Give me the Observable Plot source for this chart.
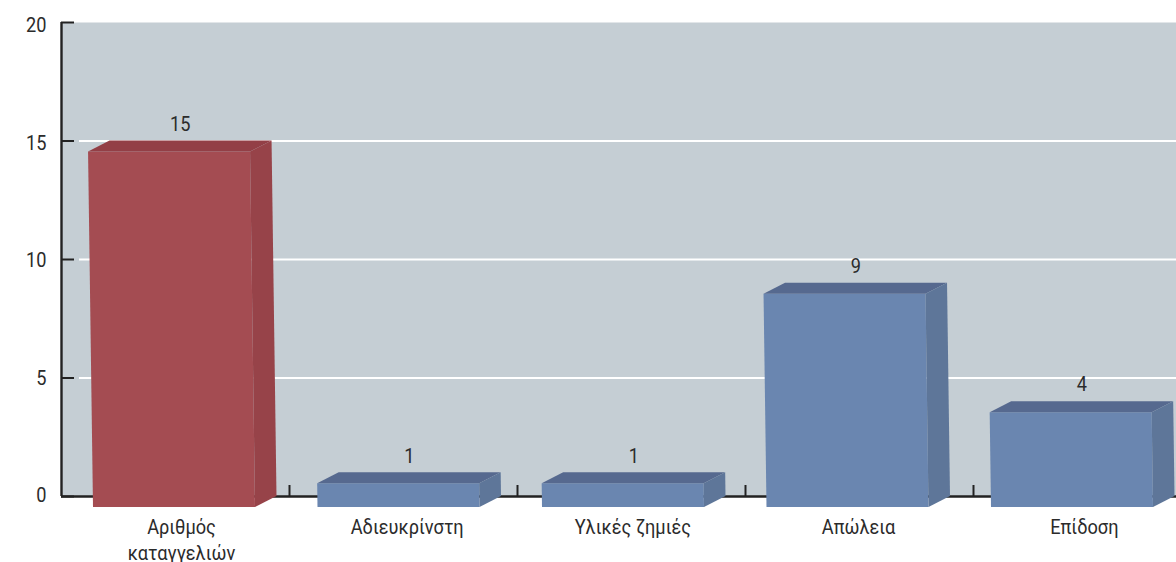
<!DOCTYPE html>
<html><head><meta charset="utf-8">
<script src="https://cdn.jsdelivr.net/npm/d3@7"></script>
<script src="https://cdn.jsdelivr.net/npm/@observablehq/plot@0.6"></script>
<style>html,body{margin:0;padding:0;background:#fff;overflow:hidden}</style>
</head><body><div id="chart"></div>
<script>
const categories = ["Αριθμός\nκαταγγελιών", "Αδιευκρίνστη", "Υλικές ζημιές", "Απώλεια", "Επίδοση"];
const values = [15, 1, 1, 9, 4];
const yTicks = [0, 5, 10, 15, 20];
const xTicks = [1, 2, 3, 4];
const highlighted = ["Αριθμός\nκαταγγελιών"];

// layout, in scale units
const pxX = 1 / 228, pxY = 1 / 23.7;
const step = 224.5 * pxX, start = 32 * pxX, barW = 162 * pxX;
const depthX = 21.5 * pxX, depthY = 11 * pxY, skew = 0.33 * pxX;
const FONT = "Roboto,sans-serif";
const TEXT_NARROW = 0.865;

const palette = {
  red: {front: "#a44c52", top: "#933f46", side: "#974349"},
  blue: {front: "#6a86b0", top: "#56698f", side: "#5e7699"}
};

function quad(key, fill, a, b, c, d) {
  return [
    {key, fill, x1: a[0], y1: a[1], x2: b[0], y2: b[1]},
    {key, fill, x1: d[0], y1: d[1], x2: c[0], y2: c[1]}
  ];
}

const bars = categories.map((c, i) => {
  const v = values[i];
  const pal = highlighted.includes(c) ? palette.red : palette.blue;
  const xl = start + i * step, xr = xl + barW;
  const dt = skew * v;
  const yb = -depthY, yt = v - depthY;
  const fbl = [xl, yb], fbr = [xr, yb], ftl = [xl - dt, yt], ftr = [xr - dt, yt];
  const btl = [ftl[0] + depthX, v], btr = [ftr[0] + depthX, v], bbr = [xr + depthX, 0];
  return {
    c, v,
    labelX: (ftl[0] + btr[0]) / 2,
    faces: [
      ...quad(i + "f", pal.front, fbl, ftl, ftr, fbr),
      ...quad(i + "t", pal.top, ftl, btl, btr, ftr),
      ...quad(i + "s", pal.side, fbr, ftr, btr, bbr)
    ]
  };
});
const faces = bars.flatMap(b => b.faces);

const xMax = 1115 * pxX;
const chart = Plot.plot({
  width: 1176, height: 562,
  marginLeft: 61, marginRight: 0, marginTop: 22, marginBottom: 66,
  x: {domain: [0, xMax], axis: null},
  y: {domain: [0, 20], axis: null},
  color: {type: "identity"},
  style: {fontFamily: FONT, background: "#fff", overflow: "hidden"},
  marks: [
    Plot.frame({fill: "#c5ced4", stroke: null}),
    Plot.ruleY(yTicks.filter(t => t > 0 && t < 20), {x1: 18 * pxX, x2: xMax, stroke: "#fff", strokeWidth: 2.2}),
    Plot.ruleX(xTicks, {y1: 0, y2: 11 * pxY, stroke: "#222", strokeWidth: 2}),
    Plot.ruleY(yTicks, {x1: 0, x2: 13 * pxX, stroke: "#222", strokeWidth: 2}),
    Plot.ruleY([0], {x1: 0, x2: xMax, stroke: "#222", strokeWidth: 2.4}),
    Plot.ruleX([0], {y1: 0, y2: 20, stroke: "#222", strokeWidth: 2.4}),
    Plot.area(faces, {x1: "x1", y1: "y1", x2: "x2", y2: "y2", z: "key", fill: "fill", curve: "linear"}),
    Plot.text(values, {
      x: (d, i) => bars[i].labelX, y: d => d, text: d => String(d), dy: -17,
      fontSize: 21, fill: "#2b2b2b"
    }),
    Plot.text(yTicks, {
      x: 0, y: d => 0.042 + 0.9916 * d, text: d => String(d), dx: -15, textAnchor: "end",
      fontSize: 21, fill: "#2b2b2b"
    }),
    Plot.text(categories, {
      x: (d, i) => (120 + i * 225.7) * pxX, y: () => 0, text: d => d, dy: 19,
      lineAnchor: "top", lineHeight: 1.24, fontSize: 21, fill: "#2b2b2b"
    })
  ]
});
document.getElementById("chart").appendChild(chart);
// The reference's typeface is condensed: narrow the installed one, keeping real text.
chart.querySelectorAll("text").forEach(t => {
  const spans = t.querySelectorAll("tspan");
  (spans.length ? [...spans] : [t]).forEach(el => {
    el.setAttribute("textLength", el.getComputedTextLength() * TEXT_NARROW);
    el.setAttribute("lengthAdjust", "spacingAndGlyphs");
  });
});
</script></body></html>
